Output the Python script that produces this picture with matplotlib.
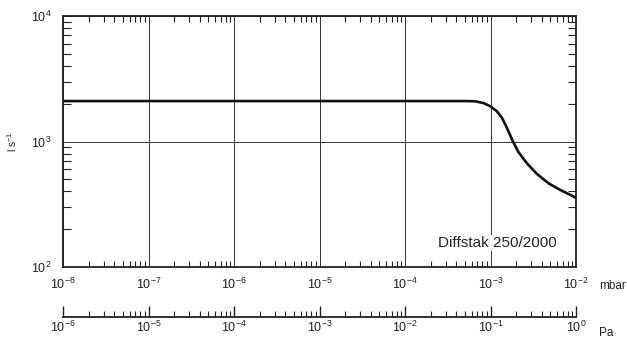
import numpy as np
import matplotlib
matplotlib.use("Agg")
import matplotlib.pyplot as plt
from matplotlib.ticker import LogLocator, NullFormatter, FixedLocator

plt.rcParams['font.family'] = ['Liberation Sans', 'DejaVu Sans']
plt.rcParams['mathtext.fontset'] = 'custom'
plt.rcParams['mathtext.rm'] = 'Liberation Sans'
plt.rcParams['mathtext.it'] = 'Liberation Sans'
plt.rcParams['mathtext.default'] = 'regular'

# pumping speed curve (mbar -> l/s)
pressure_mbar = [1e-8, 1e-6, 1e-4, 5.06e-4, 6.62e-4, 8.28e-4, 1.0e-3, 1.19e-3,
                 1.36e-3, 1.51e-3, 1.67e-3, 1.83e-3, 2.13e-3, 2.67e-3, 3.49e-3,
                 4.78e-3, 6.55e-3, 8.97e-3, 1e-2]
speed_ls = [2100, 2100, 2100, 2100, 2090, 2025, 1905, 1738,
            1545, 1343, 1153, 1000, 821, 670, 552,
            464, 411, 370, 355]

mbar_ticks = [1e-8, 1e-7, 1e-6, 1e-5, 1e-4, 1e-3, 1e-2]
pa_ticks = [1e-6, 1e-5, 1e-4, 1e-3, 1e-2, 1e-1, 1e0]
speed_ticks = [1e2, 1e3, 1e4]
label = "Diffstak 250/2000"


def pow_label(v):
    return r'$10^{%d}$' % round(np.log10(v))


W, H = 627, 338
fig = plt.figure(figsize=(W / 100, H / 100), dpi=100)

ax = fig.add_axes([63 / W, (H - 267) / H, 513 / W, 251 / H])
ax.set_xscale('log')
ax.set_yscale('log')
ax.set_xlim(1e-8, 1e-2)
ax.set_ylim(1e2, 1e4)

ax.plot(pressure_mbar, speed_ls, color='#111111', lw=1.9,
        solid_joinstyle='round', solid_capstyle='butt', zorder=3)

ax.xaxis.set_major_locator(FixedLocator(mbar_ticks))
ax.yaxis.set_major_locator(FixedLocator(speed_ticks))
ax.xaxis.set_minor_locator(LogLocator(base=10, subs=np.arange(2, 10), numticks=100))
ax.yaxis.set_minor_locator(LogLocator(base=10, subs=np.arange(2, 10), numticks=100))
ax.xaxis.set_minor_formatter(NullFormatter())
ax.yaxis.set_minor_formatter(NullFormatter())
ax.set_xticklabels([pow_label(v) for v in mbar_ticks])
ax.set_yticklabels([pow_label(v) for v in speed_ticks])

ax.tick_params(which='both', direction='in', top=True, right=True,
               color='#222222', labelsize=9, labelcolor='#222222')
ax.tick_params(axis='x', which='major', length=0, pad=7)
ax.tick_params(axis='x', which='minor', length=4.5, width=0.8)
ax.tick_params(axis='y', which='major', length=0, pad=8)
ax.tick_params(axis='y', which='minor', length=6, width=0.8)

ax.grid(True, which='major', color='#333333', lw=0.7)
for s in ax.spines.values():
    s.set_linewidth(1.3)
    s.set_color('#222222')

ax.set_ylabel(r'l s$^{-1}$', fontsize=7.5, color='#222222')
ax.yaxis.set_label_coords(-0.085, 0.5)

ax.text(0.963, 0.096, label, transform=ax.transAxes, ha='right', va='center',
        fontsize=11, color='#222222',
        bbox=dict(facecolor='white', edgecolor='none', pad=1))

ax.text(1.045, -0.075, 'mbar', transform=ax.transAxes, ha='left', va='center',
        fontsize=8.5, color='#222222')

# second pressure axis in Pa
ax2 = fig.add_axes([63 / W, (H - 316.7) / H, 513 / W, 0.05])
ax2.set_xscale('log')
ax2.set_xlim(1e-6, 1e0)
ax2.set_yticks([])
ax2.patch.set_alpha(0)
for side in ['top', 'left', 'right']:
    ax2.spines[side].set_visible(False)
ax2.spines['bottom'].set_linewidth(1.3)
ax2.spines['bottom'].set_color('#222222')
ax2.xaxis.set_major_locator(FixedLocator(pa_ticks))
ax2.xaxis.set_minor_locator(LogLocator(base=10, subs=np.arange(2, 10), numticks=100))
ax2.xaxis.set_minor_formatter(NullFormatter())
ax2.set_xticklabels([pow_label(v) for v in pa_ticks])
ax2.tick_params(which='both', direction='in', color='#222222', labelsize=9,
                labelcolor='#222222')
ax2.tick_params(which='major', length=8, width=1.0, pad=2.5)
ax2.tick_params(which='minor', length=4.5, width=0.8)
ax2.text(1.045, -0.95, 'Pa', transform=ax2.transAxes, ha='left', va='center',
         fontsize=8.5, color='#222222')

fig.savefig('out.png', dpi=100)
